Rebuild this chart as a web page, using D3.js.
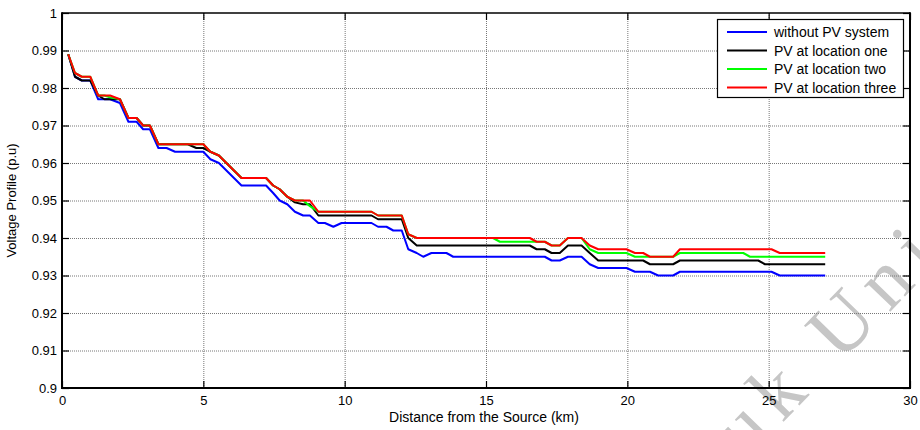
<!DOCTYPE html>
<html><head><meta charset="utf-8">
<script src="https://cdn.jsdelivr.net/npm/d3@7"></script>
<style>
body{margin:0;background:#fff}
svg{display:block;font-family:"Liberation Sans",Arial,sans-serif}
</style>
</head><body>
<svg id="chart" width="920" height="430"></svg>
<script>
// ---- data ----
const distance = [0.22,0.46,0.70,1.00,1.28,1.50,1.70,2.05,2.35,2.64,2.87,3.11,3.41,3.70,4.00,4.45,4.75,5.00,5.25,5.55,6.35,7.22,7.47,7.70,7.97,8.24,8.53,8.77,9.07,9.30,9.60,9.89,10.95,11.18,11.48,11.72,12.02,12.25,12.55,12.78,13.07,13.60,13.84,15.25,15.49,16.55,16.79,17.08,17.32,17.61,17.90,18.38,18.67,18.97,19.97,20.27,20.56,20.80,21.09,21.62,21.86,24.10,24.34,24.63,24.87,25.10,25.39,27.00];
const withoutPV = [0.989,0.983,0.982,0.982,0.977,0.977,0.977,0.976,0.971,0.971,0.969,0.969,0.964,0.964,0.963,0.963,0.963,0.963,0.961,0.960,0.954,0.954,0.952,0.950,0.949,0.947,0.946,0.946,0.944,0.944,0.943,0.944,0.944,0.943,0.943,0.942,0.942,0.937,0.936,0.935,0.936,0.936,0.935,0.935,0.935,0.935,0.935,0.935,0.934,0.934,0.935,0.935,0.933,0.932,0.932,0.931,0.931,0.931,0.930,0.930,0.931,0.931,0.931,0.931,0.931,0.931,0.930,0.930];
const pvLocationOne = [0.989,0.983,0.982,0.982,0.978,0.977,0.977,0.977,0.972,0.972,0.970,0.970,0.965,0.965,0.965,0.965,0.964,0.964,0.963,0.962,0.956,0.956,0.954,0.953,0.951,0.9495,0.949,0.949,0.946,0.946,0.946,0.946,0.946,0.945,0.945,0.945,0.945,0.940,0.938,0.938,0.938,0.938,0.938,0.938,0.938,0.938,0.937,0.937,0.936,0.936,0.938,0.938,0.936,0.934,0.934,0.934,0.934,0.933,0.933,0.933,0.934,0.934,0.934,0.934,0.933,0.933,0.933,0.933];
const pvLocationTwo = [0.989,0.984,0.983,0.983,0.978,0.978,0.9775,0.977,0.972,0.972,0.970,0.970,0.965,0.965,0.965,0.965,0.965,0.965,0.963,0.962,0.956,0.956,0.954,0.953,0.951,0.950,0.950,0.9485,0.947,0.947,0.947,0.947,0.947,0.946,0.946,0.946,0.946,0.941,0.940,0.940,0.940,0.940,0.940,0.940,0.939,0.939,0.939,0.939,0.938,0.938,0.940,0.940,0.937,0.936,0.936,0.935,0.935,0.935,0.935,0.935,0.936,0.936,0.935,0.935,0.935,0.935,0.935,0.935];
const pvLocationThree = [0.989,0.984,0.983,0.983,0.978,0.978,0.978,0.977,0.972,0.972,0.970,0.970,0.965,0.965,0.965,0.965,0.965,0.965,0.963,0.962,0.956,0.956,0.954,0.953,0.951,0.950,0.950,0.950,0.947,0.947,0.947,0.947,0.947,0.946,0.946,0.946,0.946,0.941,0.940,0.940,0.940,0.940,0.940,0.940,0.940,0.940,0.939,0.939,0.938,0.938,0.940,0.940,0.938,0.937,0.937,0.936,0.936,0.935,0.935,0.935,0.937,0.937,0.937,0.937,0.937,0.937,0.936,0.936];

const seriesNames = ["without PV system","PV at location one","PV at location two","PV at location three"];
const seriesColors = ["#0000ff","#000000","#00ff00","#ff0000"];
const xTicks = [0,5,10,15,20,25,30];
const xTickLabels = ["0","5","10","15","20","25","30"];
const yTicks = [0.9,0.91,0.92,0.93,0.94,0.95,0.96,0.97,0.98,0.99,1];
const yTickLabels = ["0.9","0.91","0.92","0.93","0.94","0.95","0.96","0.97","0.98","0.99","1"];
const xTitle = "Distance from the Source (km)";
const yTitle = "Voltage Profile (p.u)";
const watermarkText = "uk Uni";

// ---- layout ----
const L = 62, R = 910, T = 13, B = 388;
const W = R - L, H = B - T;
const svg = d3.select("#chart");

const x = d3.scaleLinear().domain([0,30]).range([L,R]);
const y = d3.scaleLinear().domain([0.9,1]).range([B,T]);

const series = [withoutPV, pvLocationOne, pvLocationTwo, pvLocationThree].map((vals,i)=>({
  name: seriesNames[i], color: seriesColors[i],
  points: distance.map((d,j)=>({d, v: vals[j]}))
}));

// faint watermark behind the chart
svg.append("text").attr("transform","translate(746,461) rotate(-46)")
  .style("font-family","'Liberation Serif','DejaVu Serif',serif").style("font-size","80px")
  .style("letter-spacing","12px")
  .attr("fill","#c6c6c6").text(watermarkText);

// grid
const gridX = svg.append("g").attr("transform",`translate(0,${B})`)
  .call(d3.axisBottom(x).tickValues(xTicks.slice(1,-1)).tickSize(-H).tickFormat(""));
const gridY = svg.append("g").attr("transform",`translate(${L},0)`)
  .call(d3.axisLeft(y).tickValues(yTicks.slice(1,-1)).tickSize(-W).tickFormat(""));
[gridX,gridY].forEach(g=>{
  g.select(".domain").remove();
  g.selectAll("line").attr("stroke","#777").attr("stroke-width",1).attr("stroke-dasharray","1,1");
});

// lines
const line = d3.line().x(p=>x(p.d)).y(p=>y(p.v));
svg.append("g").selectAll("path").data(series).join("path")
  .attr("d", s=>line(s.points))
  .attr("fill","none")
  .attr("stroke", s=>s.color)
  .attr("stroke-width",2)
  .attr("stroke-linejoin","round");

// axes (ticks inward on all sides)
const fmtX = d=>xTickLabels[xTicks.indexOf(d)];
const fmtY = d=>yTickLabels[yTicks.findIndex(t=>Math.abs(t-d)<1e-9)];
const axB = svg.append("g").attr("transform",`translate(0,${B})`)
  .call(d3.axisBottom(x).tickValues(xTicks).tickSize(-7).tickPadding(8).tickFormat(fmtX));
const axT = svg.append("g").attr("transform",`translate(0,${T})`)
  .call(d3.axisTop(x).tickValues(xTicks).tickSize(-7).tickFormat(""));
const axL = svg.append("g").attr("transform",`translate(${L},0)`)
  .call(d3.axisLeft(y).tickValues(yTicks).tickSize(-7).tickPadding(5).tickFormat(fmtY));
const axR = svg.append("g").attr("transform",`translate(${R},0)`)
  .call(d3.axisRight(y).tickValues(yTicks).tickSize(-7).tickFormat(""));
[axB,axT,axL,axR].forEach(g=>{
  g.select(".domain").remove();
  g.selectAll("line").attr("stroke","#000").attr("stroke-width",1.2);
  g.selectAll("text").attr("fill","#000").style("font-size","13px").style("font-family","'Liberation Sans',Arial,sans-serif");
});

// frame
svg.append("line").attr("x1",L).attr("x2",R).attr("y1",T).attr("y2",T).attr("stroke","#000").attr("stroke-width",1.5);
svg.append("line").attr("x1",L).attr("x2",R).attr("y1",B).attr("y2",B).attr("stroke","#000").attr("stroke-width",2);
svg.append("line").attr("x1",L).attr("x2",L).attr("y1",T-0.75).attr("y2",B+1).attr("stroke","#000").attr("stroke-width",2);
svg.append("line").attr("x1",R).attr("x2",R).attr("y1",T-0.75).attr("y2",B+1).attr("stroke","#000").attr("stroke-width",2);

// axis titles
svg.append("text").attr("x",(L+R)/2-2).attr("y",422).attr("text-anchor","middle")
  .style("font-size","14px").attr("fill","#000").text(xTitle);
svg.append("text").attr("transform",`translate(16,${(T+B)/2}) rotate(-90)`).attr("text-anchor","middle")
  .style("font-size","13px").attr("fill","#000").text(yTitle);

// legend
const lg = svg.append("g");
lg.append("rect").attr("x",717.5).attr("y",19.5).attr("width",186).attr("height",78)
  .attr("fill","#fff").attr("stroke","#000").attr("stroke-width",1.2);
const rowY = i => 32 + i*18.5;
lg.selectAll("line.k").data(series).join("line").attr("class","k")
  .attr("x1",727).attr("x2",767).attr("y1",(s,i)=>rowY(i)).attr("y2",(s,i)=>rowY(i))
  .attr("stroke",s=>s.color).attr("stroke-width",2);
lg.selectAll("text").data(series).join("text")
  .attr("x",774).attr("y",(s,i)=>rowY(i)+5)
  .style("font-size","14px").attr("fill","#000").text(s=>s.name);
</script>
</body></html>
